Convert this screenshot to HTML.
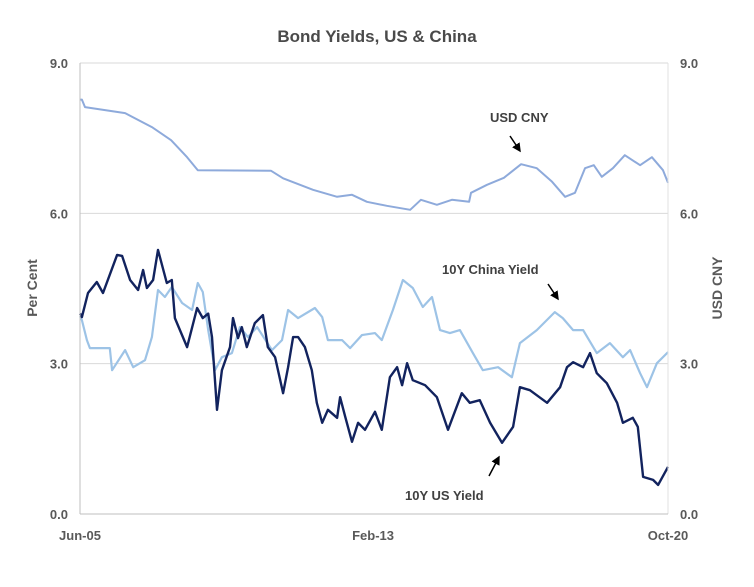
<!DOCTYPE html>
<html><head><meta charset="utf-8"><style>
body{margin:0;background:#fff;font-family:"Liberation Sans",sans-serif;}
svg text{font-family:"Liberation Sans",sans-serif;fill:#595959;}
</style></head><body>
<svg id="chart" width="754" height="582">
<text x="377" y="42" text-anchor="middle" font-size="17" font-weight="bold" style="fill:#4a4a4a">Bond Yields, US &amp; China</text>
<g id="grid"></g><g id="lines"></g><g id="axes"></g>
<text x="490" y="122" font-size="13" font-weight="bold" style="fill:#404040">USD CNY</text>
<line x1="510" y1="136" x2="520" y2="151" stroke="#000" stroke-width="1.5" marker-end="url(#ah)"/>
<text x="442" y="274" font-size="13" font-weight="bold" style="fill:#404040">10Y China Yield</text>
<line x1="548" y1="284" x2="558" y2="299" stroke="#000" stroke-width="1.5" marker-end="url(#ah)"/>
<text x="405" y="500" font-size="13" font-weight="bold" style="fill:#404040">10Y US Yield</text>
<line x1="489" y1="476" x2="499" y2="457" stroke="#000" stroke-width="1.5" marker-end="url(#ah)"/>
<defs><marker id="ah" markerWidth="6" markerHeight="6" refX="5" refY="3" orient="auto"><path d="M0,0 L6,3 L0,6 z" fill="#000"/></marker></defs>
<text transform="translate(37,288) rotate(-90)" text-anchor="middle" font-size="14" font-weight="bold">Per Cent</text>
<text transform="translate(722,288) rotate(-90)" text-anchor="middle" font-size="14" font-weight="bold">USD CNY</text>
</svg>
<script>
const cnyT=[2005.42,2005.47,2005.55,2006.60,2007.30,2007.80,2008.22,2008.50,2010.41,2010.73,2011.51,2012.14,2012.53,2012.92,2013.44,2014.05,2014.33,2014.75,2015.14,2015.59,2015.64,2016.06,2016.50,2016.95,2017.36,2017.76,2018.10,2018.36,2018.62,2018.85,2019.06,2019.35,2019.66,2020.06,2020.37,2020.66,2020.79];
const cnyV=[8.27,8.27,8.12,8.0,7.72,7.46,7.12,6.86,6.85,6.70,6.47,6.33,6.37,6.23,6.15,6.07,6.27,6.17,6.27,6.23,6.41,6.57,6.71,6.98,6.90,6.63,6.33,6.41,6.90,6.96,6.73,6.90,7.16,6.96,7.12,6.86,6.61];
const usT=[2005.42,2005.47,2005.63,2005.86,2006.02,2006.39,2006.52,2006.73,2006.94,2007.07,2007.17,2007.33,2007.46,2007.69,2007.82,2007.90,2008.22,2008.48,2008.63,2008.77,2008.87,2009.00,2009.13,2009.34,2009.42,2009.55,2009.65,2009.78,2009.99,2010.20,2010.33,2010.52,2010.73,2010.86,2010.99,2011.12,2011.30,2011.48,2011.61,2011.75,2011.90,2012.14,2012.22,2012.35,2012.53,2012.69,2012.87,2013.13,2013.31,2013.52,2013.71,2013.84,2013.97,2014.12,2014.44,2014.75,2015.04,2015.40,2015.61,2015.87,2016.14,2016.45,2016.74,2016.92,2017.18,2017.63,2017.97,2018.15,2018.31,2018.57,2018.75,2018.93,2019.19,2019.46,2019.61,2019.87,2020.00,2020.14,2020.40,2020.53,2020.79];
const usV=[4.0,3.93,4.41,4.63,4.41,5.17,5.15,4.67,4.47,4.87,4.51,4.67,5.27,4.61,4.67,3.91,3.33,4.11,3.91,4.0,3.53,2.08,2.87,3.33,3.91,3.51,3.73,3.33,3.81,3.97,3.33,3.13,2.41,2.93,3.53,3.53,3.33,2.87,2.22,1.82,2.08,1.92,2.33,1.95,1.44,1.82,1.68,2.04,1.68,2.73,2.93,2.57,3.01,2.67,2.57,2.33,1.68,2.41,2.22,2.27,1.82,1.42,1.74,2.53,2.47,2.22,2.53,2.93,3.03,2.93,3.21,2.81,2.61,2.22,1.82,1.92,1.74,0.74,0.68,0.58,0.94];
const cnT=[2005.42,2005.47,2005.60,2005.68,2006.20,2006.26,2006.60,2006.81,2007.12,2007.30,2007.46,2007.64,2007.82,2008.09,2008.35,2008.50,2008.63,2008.77,2008.95,2009.13,2009.39,2009.60,2009.81,2010.05,2010.44,2010.70,2010.86,2011.12,2011.56,2011.75,2011.90,2012.27,2012.48,2012.79,2013.13,2013.31,2013.60,2013.86,2014.12,2014.38,2014.62,2014.83,2015.09,2015.35,2015.69,2015.95,2016.35,2016.71,2016.92,2017.36,2017.83,2018.04,2018.31,2018.57,2018.93,2019.27,2019.61,2019.80,2020.06,2020.24,2020.50,2020.79];
const cnV=[3.95,3.87,3.47,3.31,3.31,2.87,3.27,2.93,3.07,3.53,4.47,4.33,4.53,4.21,4.07,4.61,4.43,3.67,2.87,3.13,3.21,3.73,3.53,3.73,3.27,3.47,4.07,3.91,4.11,3.93,3.47,3.47,3.31,3.57,3.61,3.47,4.07,4.67,4.51,4.13,4.33,3.67,3.61,3.67,3.21,2.87,2.93,2.73,3.41,3.67,4.03,3.91,3.67,3.67,3.21,3.41,3.13,3.27,2.81,2.53,3.01,3.23];
const yTicks=["0.0","3.0","6.0","9.0"];
const xTicks=[["Jun-05",2005.42],["Feb-13",2013.08],["Oct-20",2020.79]];
const X0=80,X1=668,Y0=514,Y1=63,T0=2005.42,T1=2020.79;
const x=t=>X0+(t-T0)/(T1-T0)*(X1-X0);
const y=v=>Y0-v/9*(Y0-Y1);
const NS="http://www.w3.org/2000/svg";
function mk(tag,attrs,parent){const e=document.createElementNS(NS,tag);for(const k in attrs)e.setAttribute(k,attrs[k]);document.getElementById(parent).appendChild(e);return e;}
yTicks.forEach(s=>{const v=+s;
 if(v>0){const g=mk('line',{x1:X0,x2:X1,y1:y(v),y2:y(v),stroke:'#d9d9d9','stroke-width':1},'grid');
 
 }
 const l=mk('text',{x:X0-12,y:y(v)+5,'text-anchor':'end','font-size':13,'font-weight':'bold'},'axes');l.textContent=s;
 
 
 const r=mk('text',{x:X1+12,y:y(v)+5,'font-size':13,'font-weight':'bold'},'axes');r.textContent=s;
 
 
});
const la=mk('line',{x1:X0,x2:X0,y1:Y1,y2:Y0,stroke:'#bfbfbf'},'axes');


const ra=mk('line',{x1:X1,x2:X1,y1:Y1,y2:Y0,stroke:'#e0e0e0'},'axes');


const ba=mk('line',{x1:X0,x2:X1,y1:Y0,y2:Y0,stroke:'#bfbfbf'},'axes');


xTicks.forEach(([s,t])=>{const e=mk('text',{x:x(t),y:Y0+26,'text-anchor':'middle','font-size':13,'font-weight':'bold'},'axes');e.textContent=s;
 
 });
function line(T,V,color,w,name){const d=T.map((t,i)=>(i?'L':'M')+x(t).toFixed(1)+','+y(V[i]).toFixed(1)).join(' ');
 const p=mk('path',{d:d,fill:'none',stroke:color,'stroke-width':w,'stroke-linejoin':'round'},'lines');
 
 }
line(cnyT,cnyV,'#8eaadb',2,'usd-cny-line');
line(cnT,cnV,'#9dc3e6',2.2,'china-10y-yield-line');
line(usT,usV,'#12235e',2.4,'us-10y-yield-line');
</script>
</body></html>
